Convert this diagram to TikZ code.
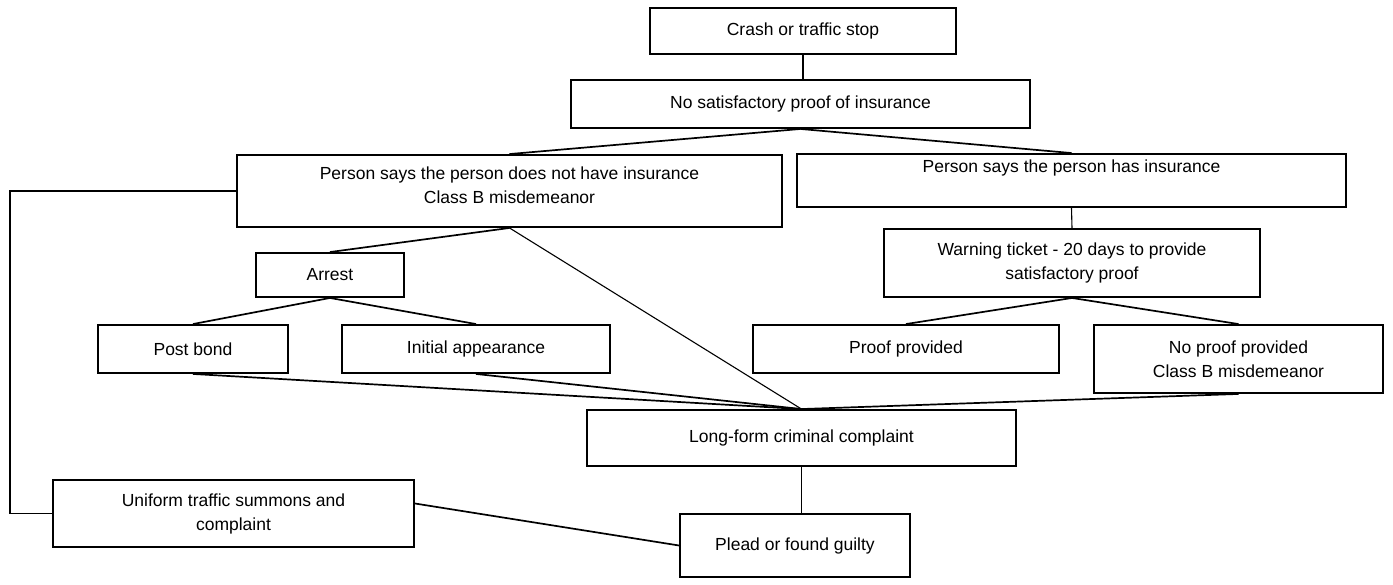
\documentclass[tikz,border=0pt]{standalone}
\usepackage{fontspec}
\setmainfont{Liberation Sans}
\begin{document}
\begin{tikzpicture}[x=1pt,y=-1pt,
  box/.style={draw,line width=1.9pt,inner sep=0pt,align=center,font=\fontsize{17.5}{24}\selectfont},
  txt/.style={inner sep=0pt,align=center,font=\fontsize{17.5}{24}\selectfont},
  con/.style={line width=1.7pt},
  thin con/.style={line width=1.1pt}]
\useasboundingbox (0,0) rectangle (1393,584);
\node[box,minimum width=306pt,minimum height=46pt] (crash) at (803,31) {Crash or traffic stop};
\node[box,minimum width=459pt,minimum height=48pt] (nosat) at (800.5,104) {No satisfactory proof of insurance};
\node[box,minimum width=545pt,minimum height=72pt] (pno) at (509.5,191) {};
\node[txt] (pnot) at (509.5,185) {Person says the person does not have insurance\\Class B misdemeanor};
\node[box,minimum width=549pt,minimum height=53pt] (phas) at (1071.5,180.5) {};
\node[txt] (phast) at (1071.5,168) {Person says the person has insurance};
\node[box,minimum width=376pt,minimum height=68pt] (warn) at (1072,263) {Warning ticket - 20 days to provide\\satisfactory proof};
\node[box,minimum width=148pt,minimum height=44pt] (arrest) at (330,275) {Arrest};
\node[box,minimum width=190pt,minimum height=48pt] (bond) at (193,349) {Post bond};
\node[box,minimum width=268pt,minimum height=48pt] (init) at (476,349) {Initial appearance};
\node[box,minimum width=306pt,minimum height=48pt] (proof) at (906,349) {Proof provided};
\node[box,minimum width=289pt,minimum height=68pt] (noproof) at (1238.5,359) {No proof provided\\Class B misdemeanor};
\node[box,minimum width=429pt,minimum height=56pt] (long) at (801.5,438) {Long-form criminal complaint};
\node[box,minimum width=361pt,minimum height=67pt] (unif) at (233.5,513.5) {Uniform traffic summons and\\complaint};
\node[box,minimum width=230pt,minimum height=63pt] (plead) at (795,545.5) {Plead or found guilty};
\coordinate (lc1) at (10,191);
\coordinate (lc2) at (10,513.5);
\draw[thin con] (crash.south) -- (crash.south |- nosat.north);
\draw[con] (nosat.south) -- (pno.north);
\draw[con] (nosat.south) -- (phas.north);
\draw[con] (pno.south) -- (arrest.north);
\draw[thin con] (pno.south) -- (long.north);
\draw[con] (arrest.south) -- (bond.north);
\draw[con] (arrest.south) -- (init.north);
\draw[con] (bond.south) -- (long.north);
\draw[con] (init.south) -- (long.north);
\draw[thin con] (phas.south) -- (warn.north);
\draw[con] (warn.south) -- (proof.north);
\draw[con] (warn.south) -- (noproof.north);
\draw[con] (noproof.south) -- (long.north);
\draw[thin con] (long.south) -- (long.south |- plead.north);
\draw[con] (pno.west) -- (lc1) -- (lc2) -- (unif.west);
\draw[con] ([yshift=10pt]unif.east) -- (plead.west);
\end{tikzpicture}
\end{document}
